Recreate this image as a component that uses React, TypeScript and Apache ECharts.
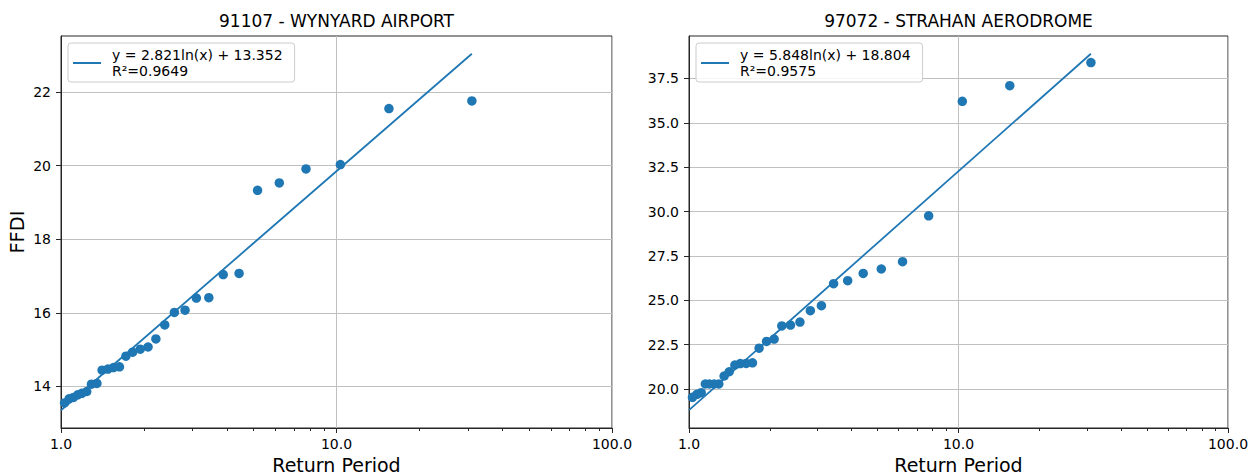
import React, { useEffect, useRef } from "react";
import * as echarts from "echarts";

// Return periods (years) shared by both stations
const returnPeriods = [31, 15.5, 10.33, 7.75, 6.2, 5.17, 4.43, 3.88, 3.44, 3.1, 2.82, 2.58, 2.38, 2.21, 2.07, 1.94, 1.82, 1.72, 1.63, 1.55, 1.48, 1.41, 1.35, 1.29, 1.24, 1.19, 1.15, 1.11, 1.07, 1.03];

const wynyardFFDI = [21.76, 21.55, 20.03, 19.91, 19.53, 19.33, 17.07, 17.04, 16.41, 16.4, 16.07, 16.01, 15.67, 15.29, 15.07, 15.01, 14.93, 14.82, 14.53, 14.51, 14.47, 14.44, 14.08, 14.06, 13.86, 13.81, 13.77, 13.7, 13.66, 13.55];
const strahanFFDI = [38.39, 37.09, 36.21, 29.76, 27.17, 26.76, 26.51, 26.1, 25.93, 24.69, 24.41, 23.77, 23.6, 23.55, 22.81, 22.68, 22.3, 21.47, 21.44, 21.43, 21.35, 20.97, 20.73, 20.28, 20.28, 20.28, 20.28, 19.79, 19.7, 19.53];

const trendX = [1, 31];
const wynyardTrendY = [13.352, 23.04];
const strahanTrendY = [18.804, 38.89];

const wynyardTitle = "91107 - WYNYARD AIRPORT";
const strahanTitle = "97072 - STRAHAN AERODROME";
const wynyardLegend = "y = 2.821ln(x) + 13.352\nR\u00b2=0.9649";
const strahanLegend = "y = 5.848ln(x) + 18.804\nR\u00b2=0.9575";

const xRange = [1, 100];
const xMinorTicks = [2, 3, 4, 5, 6, 7, 8, 9, 20, 30, 40, 50, 60, 70, 80, 90];
const wynyardYRange = [12.868, 23.524];
const strahanYRange = [17.8, 39.89];
const wynyardYTicks = [14, 16, 18, 20, 22];
const strahanYTicks = [20, 22.5, 25, 27.5, 30, 32.5, 35, 37.5];

const FONT = "DejaVu Sans";
const BLUE = "#1f77b4";
const SPINE = "#262626";
const GRIDC = "#c0c0c0";

export default function App() {
  const ref = useRef<HTMLDivElement>(null);
  useEffect(() => {
    document.body.style.margin = "0";
    if (!ref.current) return;
    const chart = echarts.init(ref.current, undefined, { renderer: "svg" });

    const gridBase = {
      top: 36,
      height: 392,
      show: true,
      borderColor: SPINE,
      borderWidth: 1,
      backgroundColor: "transparent",
      containLabel: false,
      outerBoundsMode: "none",
    };

    const majorX = (gridIndex: number, withName: boolean) => ({
      type: "log",
      logBase: 10,
      gridIndex,
      min: xRange[0],
      max: xRange[1],
      position: "bottom",
      axisLine: { show: true, lineStyle: { color: SPINE, width: 1 } },
      axisTick: { show: true, length: 5, inside: false, lineStyle: { color: SPINE, width: 1 } },
      axisLabel: {
        show: true,
        margin: 9,
        fontSize: 14,
        fontFamily: FONT,
        color: "#000",
        formatter: (v: number) => Number(v).toFixed(1),
      },
      splitLine: { show: true, lineStyle: { color: GRIDC, width: 1 } },
      minorTick: { show: false },
      name: withName ? "Return Period" : "",
      nameLocation: "middle",
      nameGap: 22,
      nameTextStyle: { fontSize: 19, lineHeight: 19, fontFamily: FONT, color: "#000" },
    });

    const minorX = (gridIndex: number) => ({
      type: "log",
      logBase: 10,
      gridIndex,
      min: xRange[0],
      max: xRange[1],
      position: "bottom",
      offset: 0,
      axisLine: { show: false },
      axisTick: { show: true, length: 3, customValues: xMinorTicks, lineStyle: { color: SPINE, width: 1 } },
      axisLabel: { show: false },
      splitLine: { show: false },
    });

    const yAx = (gridIndex: number, range: number[], ticks: number[], fmt: (v: number) => string, name: string) => ({
      type: "value",
      gridIndex,
      min: range[0],
      max: range[1],
      axisLine: { show: true, lineStyle: { color: SPINE, width: 1 } },
      axisTick: { show: true, length: 5, customValues: ticks, lineStyle: { color: SPINE, width: 1 } },
      axisLabel: {
        show: true,
        customValues: ticks,
        margin: 10,
        fontSize: 14,
        fontFamily: FONT,
        color: "#000",
        formatter: fmt,
      },
      splitLine: { show: true, lineStyle: { color: GRIDC, width: 1 } },
      name,
      nameLocation: "middle",
      nameGap: 34,
      nameTextStyle: { fontSize: 19.5, fontFamily: FONT, color: "#000" },
    });

    const legendBase = {
      orient: "vertical",
      top: 43,
      icon: "rect",
      itemWidth: 28,
      itemHeight: 2,
      selectedMode: false,
      padding: [4, 12, 3, 5],
      borderColor: "#cccccc",
      borderWidth: 1,
      borderRadius: 3,
      backgroundColor: "rgba(255,255,255,0.85)",
      textStyle: { fontSize: 14, lineHeight: 16, fontFamily: FONT, color: "#000", padding: [0, 0, 0, 6] },
    };

    const zip = (xs: number[], ys: number[]) => xs.map((x, i) => [x, ys[i]]);

    const titleText = (text: string, x: number) => ({
      type: "text",
      x,
      y: 21,
      style: {
        text,
        font: `17px "${FONT}"`,
        fill: "#000",
        align: "center",
        verticalAlign: "middle",
        textAlign: "center",
        textVerticalAlign: "middle",
      },
    });

    const option: any = {
      animation: false,
      backgroundColor: "#fff",
      grid: [
        { ...gridBase, left: 61, width: 551 },
        { ...gridBase, left: 689, width: 539 },
      ],
      xAxis: [majorX(0, true), minorX(0), majorX(1, true), minorX(1)],
      yAxis: [
        yAx(0, wynyardYRange, wynyardYTicks, (v: number) => String(Math.round(v)), "FFDI"),
        yAx(1, strahanYRange, strahanYTicks, (v: number) => Number(v).toFixed(1), ""),
      ],
      legend: [
        { ...legendBase, left: 68, data: [wynyardLegend] },
        { ...legendBase, left: 696, data: [strahanLegend] },
      ],
      graphic: [titleText(wynyardTitle, 336.5), titleText(strahanTitle, 958.5)],
      series: [
        {
          type: "scatter",
          xAxisIndex: 0,
          yAxisIndex: 0,
          data: zip(returnPeriods, wynyardFFDI),
          symbolSize: 9.5,
          itemStyle: { color: BLUE, opacity: 1 },
          z: 2,
        },
        {
          type: "line",
          name: wynyardLegend,
          xAxisIndex: 0,
          yAxisIndex: 0,
          data: zip(trendX, wynyardTrendY),
          showSymbol: false,
          symbol: "none",
          lineStyle: { color: BLUE, width: 1.8 },
          itemStyle: { color: BLUE },
          z: 3,
        },
        {
          type: "scatter",
          xAxisIndex: 2,
          yAxisIndex: 1,
          data: zip(returnPeriods, strahanFFDI),
          symbolSize: 9.5,
          itemStyle: { color: BLUE, opacity: 1 },
          z: 2,
        },
        {
          type: "line",
          name: strahanLegend,
          xAxisIndex: 2,
          yAxisIndex: 1,
          data: zip(trendX, strahanTrendY),
          showSymbol: false,
          symbol: "none",
          lineStyle: { color: BLUE, width: 1.8 },
          itemStyle: { color: BLUE },
          z: 3,
        },
      ],
    };

    chart.setOption(option);
    return () => chart.dispose();
  }, []);

  return <div ref={ref} style={{ width: 1255, height: 475 }} />;
}
